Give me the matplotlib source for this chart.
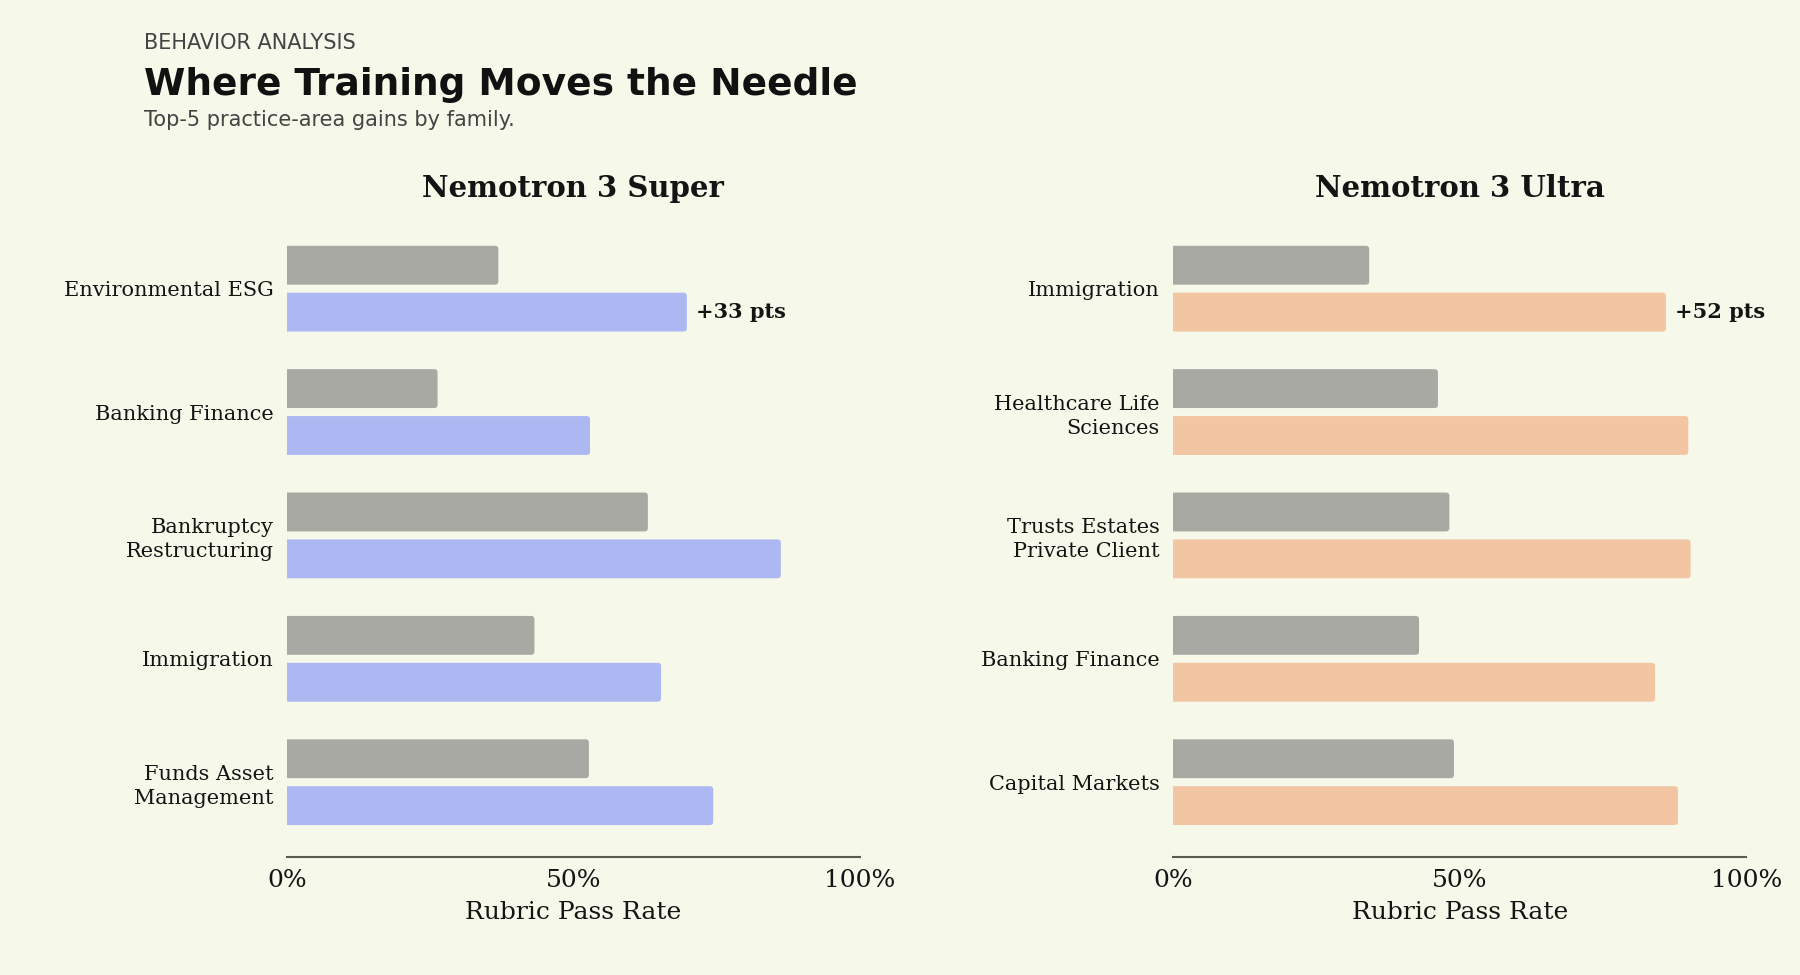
import matplotlib
matplotlib.use("Agg")
import matplotlib.pyplot as plt
import numpy as np
from matplotlib.patches import FancyBboxPatch
from matplotlib.ticker import FuncFormatter

# --- data ----------------------------------------------------
super_areas = ["Environmental ESG", "Banking Finance", "Bankruptcy\nRestructuring",
               "Immigration", "Funds Asset\nManagement"]
super_base = [36.9, 26.3, 63.0, 43.2, 52.7]
super_trained = [69.8, 52.9, 86.2, 65.3, 74.4]

ultra_areas = ["Immigration", "Healthcare Life\nSciences", "Trusts Estates\nPrivate Client",
               "Banking Finance", "Capital Markets"]
ultra_base = [34.2, 46.2, 48.2, 42.9, 49.0]
ultra_trained = [86.0, 89.9, 90.3, 84.1, 88.1]

xticks = [0, 50, 100]

# --- style ---------------------------------------------------
BG = "#f6f8e9"
GREY = "#a8a9a3"
BLUE = "#adb8f3"
ORANGE = "#f2c6a3"
INK = "#141414"

plt.rcParams["font.family"] = ["DejaVu Serif"]

fig = plt.figure(figsize=(12, 6.5), dpi=150, facecolor=BG)


def round_bars(ax, bars, r=0.6, aspect=0.045):
    # swap plain rectangles for rounded ones (left end clipped at the axis)
    for b in bars:
        x, y = b.get_x(), b.get_y()
        w, h = b.get_width(), b.get_height()
        p = FancyBboxPatch((x - 2 * r, y), w + 2 * r, h,
                           boxstyle=f"round,pad=0,rounding_size={r}",
                           mutation_aspect=aspect,
                           facecolor=b.get_facecolor(), edgecolor="none",
                           zorder=b.get_zorder())
        b.remove()
        ax.add_patch(p)


def panel(rect, title, areas, base, trained, color):
    ax = fig.add_axes(rect)
    ax.set_facecolor(BG)
    y = np.arange(len(areas))
    off, h = 0.19, 0.315
    b1 = ax.barh(y - off, base, height=h, color=GREY)
    b2 = ax.barh(y + off, trained, height=h, color=color)
    round_bars(ax, b1)
    round_bars(ax, b2)

    # gain label on top row
    gain = trained[0] - base[0]
    ax.annotate(f"+{gain:.0f} pts", xy=(trained[0], y[0] + off),
                xytext=(4.5, 0), textcoords="offset points",
                va="center", ha="left", fontsize=10, fontweight="bold", color=INK)

    ax.set_xlim(0, 100)
    ax.set_ylim(len(areas) - 1 + 0.605, -0.605)
    ax.set_yticks(y)
    ax.set_yticklabels(areas, fontsize=10, color=INK, linespacing=1.32)
    ax.set_xticks(xticks)
    ax.xaxis.set_major_formatter(FuncFormatter(lambda v, p: f"{v:.0f}%"))
    ax.tick_params(axis="both", length=0)
    ax.tick_params(axis="y", pad=6.5)
    ax.tick_params(axis="x", pad=6, labelsize=12, labelcolor=INK)
    for s in ["top", "right", "left"]:
        ax.spines[s].set_visible(False)
    ax.spines["bottom"].set_color("#5a5a50")
    ax.spines["bottom"].set_linewidth(1.0)
    ax.set_xlabel("Rubric Pass Rate", fontsize=12, color=INK, labelpad=4)
    ax.set_title(title, fontsize=14, fontweight="bold", color=INK, pad=8)
    return ax


panel([0.1594, 0.1212, 0.3183, 0.6593], "Nemotron 3 Super",
      super_areas, super_base, super_trained, BLUE)
panel([0.6518, 0.1212, 0.3183, 0.6593], "Nemotron 3 Ultra",
      ultra_areas, ultra_base, ultra_trained, ORANGE)

# --- header --------------------------------------------------
hdr = ["DejaVu Sans"]
fig.text(0.08, 0.9494, "BEHAVIOR ANALYSIS", fontsize=10, color="#444444",
         family=hdr, va="baseline")
fig.text(0.08, 0.9026, "Where Training Moves the Needle", fontsize=18,
         fontweight="bold", color="#111111", family=hdr, va="baseline")
fig.text(0.08, 0.8708, "Top-5 practice-area gains by family.", fontsize=10,
         color="#444444", family=hdr, va="baseline")

fig.savefig("out.png", dpi=150, facecolor=BG)
